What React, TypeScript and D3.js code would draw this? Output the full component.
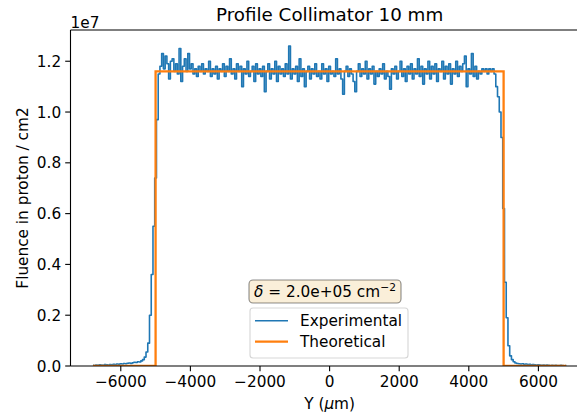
import React from "react";
import * as d3 from "d3";

// ---------- data (fluence in units of 1e7 proton / cm2) ----------
const binWidth = 50; // µm between experimental points

const leftTailStart = -6800;
const leftTail = [
  0.003, 0.002, 0.004, 0.003, 0.005, 0.004, 0.003, 0.006, 0.005, 0.004,
  0.006, 0.005, 0.007, 0.006, 0.008, 0.007, 0.009, 0.008, 0.010, 0.009,
  0.011, 0.012, 0.010, 0.013, 0.015, 0.014, 0.017, 0.016, 0.020, 0.025,
  0.035, 0.055, 0.09, 0.20, 0.36, 0.55, 0.74, 0.97, 1.15,
];

const plateauStart = -4850;
const plateau = [
  1.18, 1.23, 1.17, 1.22, 1.19, 1.13, 1.20, 1.21, 1.16, 1.19,
  1.15, 1.25, 1.12, 1.18, 1.21, 1.16, 1.23, 1.17, 1.19, 1.15,
  1.17, 1.14, 1.18, 1.16, 1.19, 1.15, 1.17, 1.16, 1.20, 1.14,
  1.17, 1.15, 1.18, 1.13, 1.17, 1.16, 1.19, 1.14, 1.18, 1.16,
  1.21, 1.15, 1.17, 1.13, 1.19, 1.16, 1.18, 1.10, 1.17, 1.15,
  1.20, 1.14, 1.16, 1.18, 1.12, 1.19, 1.15, 1.17, 1.14, 1.18,
  1.08, 1.16, 1.19, 1.13, 1.17, 1.15, 1.20, 1.12, 1.18, 1.15,
  1.17, 1.14, 1.19, 1.15, 1.26, 1.13, 1.17, 1.15, 1.18, 1.12,
  1.21, 1.14, 1.17, 1.10, 1.16, 1.18, 1.13, 1.17, 1.15, 1.19,
  1.14, 1.16, 1.13, 1.19, 1.15, 1.17, 1.12, 1.18, 1.15, 1.16,
  1.14, 1.21, 1.15, 1.17, 1.13, 1.07, 1.16, 1.18, 1.14, 1.17,
  1.15, 1.12, 1.08, 1.16, 1.19, 1.14, 1.17, 1.15, 1.20, 1.13,
  1.17, 1.15, 1.18, 1.11, 1.16, 1.14, 1.17, 1.15, 1.19, 1.13,
  1.16, 1.14, 1.09, 1.17, 1.15, 1.18, 1.13, 1.16, 1.20, 1.14,
  1.17, 1.12, 1.18, 1.15, 1.19, 1.13, 1.17, 1.15, 1.21, 1.14,
  1.18, 1.11, 1.17, 1.15, 1.20, 1.13, 1.18, 1.15, 1.19, 1.12,
  1.17, 1.16, 1.20, 1.13, 1.18, 1.15, 1.19, 1.11, 1.17, 1.15,
  1.20, 1.14, 1.18, 1.16, 1.19, 1.22, 1.10, 1.17, 1.15, 1.23,
  1.14, 1.18, 1.13, 1.16, 1.15, 1.17, 1.16, 1.17, 1.15, 1.17,
  1.16, 1.17, 1.15,
];

const rightTailStart = 4800;
const rightTail = [
  1.10, 1.06, 1.00, 0.90, 0.62, 0.33, 0.19, 0.08, 0.04, 0.025,
  0.017, 0.012, 0.010, 0.009, 0.008, 0.009, 0.007, 0.008, 0.006, 0.007,
  0.005, 0.006, 0.005, 0.004, 0.005, 0.004, 0.003, 0.004, 0.003, 0.004,
  0.003, 0.002, 0.003, 0.002, 0.003, 0.002, 0.002, 0.003, 0.002, 0.001,
  0.002,
];

const theoryX = [-6800, -5000, -5000, 5000, 5000, 6800];
const theoryY = [0, 0, 1.16, 1.16, 0, 0];

const yTicks = [0, 0.2, 0.4, 0.6, 0.8, 1.0, 1.2];
const xTicks = [-6000, -4000, -2000, 0, 2000, 4000, 6000];

const title = "Profile Collimator 10 mm";
const yLabel = "Fluence in proton / cm2";
const legendLabels = ["Experimental", "Theoretical"];

// ---------- layout ----------
const W = 577;
const H = 414;
const axL = 70.5;
const axR = 588.7;
const axT = 30;
const axB = 366;
const FONT = "'DejaVu Sans', sans-serif";
const FS = 15.3;
const BLUE = "#1f77b4";
const ORANGE = "#ff7f0e";

type Pt = [number, number];

function segment(start: number, vals: number[]): Pt[] {
  return vals.map((v, i) => [start + i * binWidth, v]);
}

export default function App() {
  const exp: Pt[] = [
    ...segment(leftTailStart, leftTail),
    ...segment(plateauStart, plateau),
    ...segment(rightTailStart, rightTail),
  ];
  const theo: Pt[] = theoryX.map((x, i) => [x, theoryY[i]]);

  const allY = exp.map((d) => d[1]).concat(theoryY);
  const yMax = (d3.max(allY) as number) * 1.05;

  const x = d3.scaleLinear().domain([-7445, 7445]).range([axL, axR]);
  const y = d3.scaleLinear().domain([0, yMax]).range([axB, axT]);

  const stepLine = d3
    .line<Pt>()
    .curve(d3.curveStep)
    .x((d) => x(d[0]))
    .y((d) => y(d[1]));
  const line = d3
    .line<Pt>()
    .x((d) => x(d[0]))
    .y((d) => y(d[1]));

  const tick = 5.3;
  const cx = (axL + axR) / 2;

  return (
    <svg width={W} height={H} style={{ display: "block", position: "absolute", left: 0, top: 0 }}>
      <rect x={0} y={0} width={W} height={H} fill="#fff" />
      <defs>
        <clipPath id="ax">
          <rect x={axL} y={axT} width={axR - axL} height={axB - axT} />
        </clipPath>
      </defs>
      <g clipPath="url(#ax)">
        <path d={stepLine(exp) || ""} fill="none" stroke={BLUE} strokeWidth={1.6} strokeLinejoin="round" />
        <path d={line(theo) || ""} fill="none" stroke={ORANGE} strokeWidth={2.3} strokeLinejoin="miter" />
      </g>

      {/* spines */}
      <line x1={axL} x2={axL} y1={axT} y2={axB} stroke="#000" strokeWidth={1.1} />
      <line x1={axL} x2={axR} y1={axB} y2={axB} stroke="#000" strokeWidth={1.1} />
      <line x1={axL} x2={axR} y1={axT} y2={axT} stroke="#000" strokeWidth={1.1} />

      {/* y ticks */}
      {yTicks.map((t) => (
        <g key={"y" + t}>
          <line x1={axL - tick} x2={axL} y1={y(t)} y2={y(t)} stroke="#000" strokeWidth={1.1} />
          <text x={axL - tick - 4} y={y(t)} dy="0.36em" textAnchor="end" fontFamily={FONT} fontSize={FS} fill="#000">
            {t.toFixed(1)}
          </text>
        </g>
      ))}
      {/* x ticks */}
      {xTicks.map((t) => (
        <g key={"x" + t}>
          <line x1={x(t)} x2={x(t)} y1={axB} y2={axB + tick} stroke="#000" strokeWidth={1.1} />
          <text x={x(t)} y={axB + tick + 15.5} textAnchor="middle" fontFamily={FONT} fontSize={FS} fill="#000">
            {t < 0 ? "\u2212" + Math.abs(t) : String(t)}
          </text>
        </g>
      ))}

      {/* offset text */}
      <text x={axL} y={27.5} fontFamily={FONT} fontSize={FS} fill="#000">1e7</text>

      {/* title */}
      <text x={cx} y={21} textAnchor="middle" fontFamily={FONT} fontSize={18.3} fill="#000">{title}</text>

      {/* axis labels */}
      <text x={cx} y={409} textAnchor="middle" fontFamily={FONT} fontSize={FS} fill="#000">
        Y (<tspan fontStyle="italic">μ</tspan>m)
      </text>
      <text
        transform={`translate(22.5,${(axT + axB) / 2}) rotate(-90)`}
        textAnchor="middle"
        dominantBaseline="central"
        fontFamily={FONT}
        fontSize={FS}
        fill="#000"
      >
        {yLabel}
      </text>

      {/* annotation box */}
      <rect x={249} y={280} width={152} height={23} rx={4} ry={4} fill="rgb(250,239,217)" stroke="rgba(0,0,0,0.45)" strokeWidth={1.1} />
      <text x={325} y={297} textAnchor="middle" fontFamily={FONT} fontSize={FS} fill="#000">
        <tspan fontStyle="italic">δ</tspan> = 2.0e+05 cm
        <tspan dy={-6} fontSize={10.7}>−2</tspan>
      </text>

      {/* legend */}
      <rect x={250} y={308} width={158} height={50} rx={3} ry={3} fill="rgba(255,255,255,0.8)" stroke="rgba(204,204,204,0.8)" strokeWidth={1.1} />
      {legendLabels.map((lab, i) => {
        const ly = 320.7 + i * 21;
        return (
          <g key={lab}>
            <line x1={255} x2={288} y1={ly} y2={ly} stroke={i === 0 ? BLUE : ORANGE} strokeWidth={i === 0 ? 1.5 : 2.3} />
            <text x={300} y={ly} dy="0.36em" fontFamily={FONT} fontSize={FS} fill="#000">{lab}</text>
          </g>
        );
      })}
    </svg>
  );
}
